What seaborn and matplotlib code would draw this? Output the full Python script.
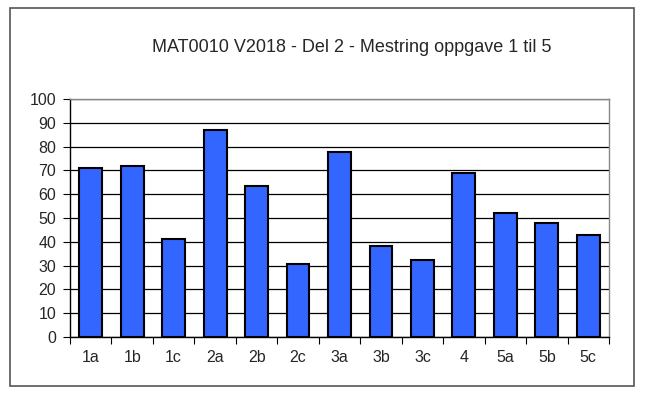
import matplotlib
matplotlib.use("Agg")
import matplotlib.pyplot as plt
import seaborn as sns
import pandas as pd
from matplotlib.patches import Rectangle

categories = ["1a", "1b", "1c", "2a", "2b", "2c", "3a", "3b", "3c", "4", "5a", "5b", "5c"]
values = [71.2, 71.7, 41.3, 87.0, 63.5, 30.6, 77.8, 38.2, 32.3, 69.0, 52.3, 47.8, 42.9]
yticks = list(range(0, 101, 10))
title = "MAT0010 V2018 - Del 2 - Mestring oppgave 1 til 5"

df = pd.DataFrame({"oppgave": categories, "mestring": values})

sns.set_style("white")
plt.rcParams["font.family"] = ["Liberation Sans", "DejaVu Sans"]

fig = plt.figure(figsize=(6.45, 4.04), dpi=100)
ax = fig.add_axes([70/645, 1-337/404, (609-70)/645, (337-99)/404])

sns.barplot(data=df, x="oppgave", y="mestring", color="#3366FF", saturation=1,
            edgecolor="black", linewidth=1.5, width=0.55, ax=ax, zorder=3)

ax.set_ylim(0, 100)
ax.set_xlim(-0.5, len(categories) - 0.5)
ax.set_yticks(yticks)
ax.set_yticklabels([str(t) for t in yticks], fontsize=11.5)
ax.set_xlabel("")
ax.set_ylabel("")
ax.yaxis.grid(True, color="black", linewidth=0.9, zorder=0)
ax.set_axisbelow(True)

# x ticks at category boundaries, labels at centers
ax.set_xticks([i - 0.5 for i in range(len(categories) + 1)], minor=False)
ax.set_xticklabels([])
ax.set_xticks(range(len(categories)), minor=True)
ax.set_xticklabels(categories, minor=True, fontsize=11.5)
ax.tick_params(axis="x", which="major", direction="out", length=5, width=0.8, color="black", bottom=True)
ax.tick_params(axis="x", which="minor", length=0, pad=9)
ax.tick_params(axis="y", direction="out", length=5, width=0.8, color="black", left=True, pad=5)

for side in ["top", "right"]:
    ax.spines[side].set_color("#888888")
    ax.spines[side].set_linewidth(1.0)
for side in ["left", "bottom"]:
    ax.spines[side].set_color("black")
    ax.spines[side].set_linewidth(1.0)

fig.text(352/645, 1-48/404, title, ha="center", va="center", fontsize=13)

fig.patches.append(Rectangle((9.5/645, 1-386/404), (634-9.5)/645, (386-8)/404,
                             transform=fig.transFigure, fill=False,
                             edgecolor="#555555", linewidth=1.2))

fig.savefig("out.png", dpi=100, facecolor="white")
